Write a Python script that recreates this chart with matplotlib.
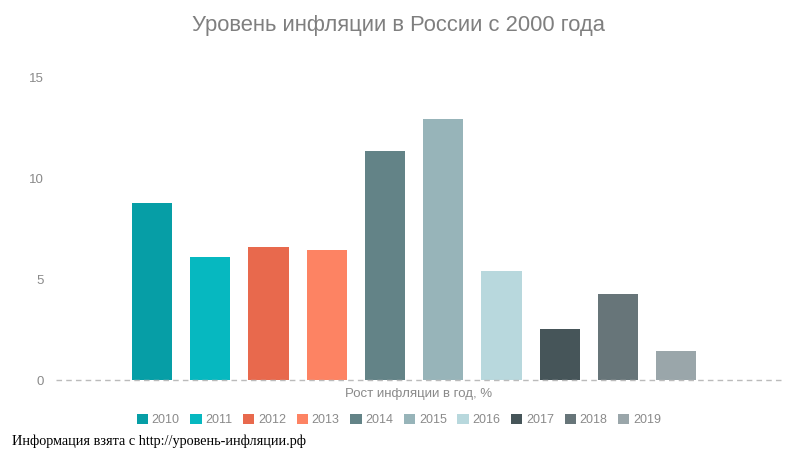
import matplotlib.pyplot as plt
from matplotlib.patches import Patch

plt.rcParams['font.family'] = ['Liberation Sans', 'DejaVu Sans']

years = ['2010', '2011', '2012', '2013', '2014', '2015', '2016', '2017', '2018', '2019']
inflation = [8.78, 6.10, 6.58, 6.45, 11.36, 12.91, 5.38, 2.52, 4.27, 1.45]
colors = ['#069ea6', '#06b8c0', '#e8694d', '#fd8363', '#638387',
          '#97b4b9', '#b8d8dd', '#465559', '#677579', '#9aa6aa']
yticks = [0, 5, 10, 15]

fig = plt.figure(figsize=(7.98, 4.61), dpi=100)
ax = fig.add_axes([56 / 798, 1 - 380 / 461, (781 - 56) / 798, (380 - 77) / 461])

x = list(range(len(years)))
ax.bar(x, inflation, width=0.69, color=colors, edgecolor='none', zorder=2)

ax.set_xlim(-1.65, 10.8)
ax.set_ylim(0, 15)
ax.set_yticks(yticks)
ax.set_yticklabels([str(t) for t in yticks], color='#8a8a8a', fontsize=9.5)
ax.tick_params(axis='y', length=0, pad=9)
ax.set_xticks([])
for s in ax.spines.values():
    s.set_visible(False)
ax.axhline(0, color='#bbbbbb', lw=1, ls=(0, (4, 3)), zorder=3, clip_on=False)

ax.set_xlabel('Рост инфляции в год, %', color='#8a8a8a', fontsize=9.5, labelpad=6)

fig.text(0.5, 1 - 25 / 461, 'Уровень инфляции в России с 2000 года',
         ha='center', va='center', color='#7f7f7f', fontsize=15.8)

handles = [Patch(facecolor=c, edgecolor='none') for c in colors]
fig.legend(handles, years, loc='center', bbox_to_anchor=(0.5, 1 - 420 / 461), ncol=10,
           frameon=False, fontsize=9, labelcolor='#8a8a8a', handlelength=0.9,
           handleheight=0.9, handletextpad=0.3, columnspacing=0.85)

fig.text(12 / 798, 1 - 441 / 461, 'Информация взята с http://уровень-инфляции.рф',
         ha='left', va='center', color='black', fontsize=10.3, family=['Liberation Serif', 'DejaVu Serif'])

fig.savefig('out.png', dpi=100)
